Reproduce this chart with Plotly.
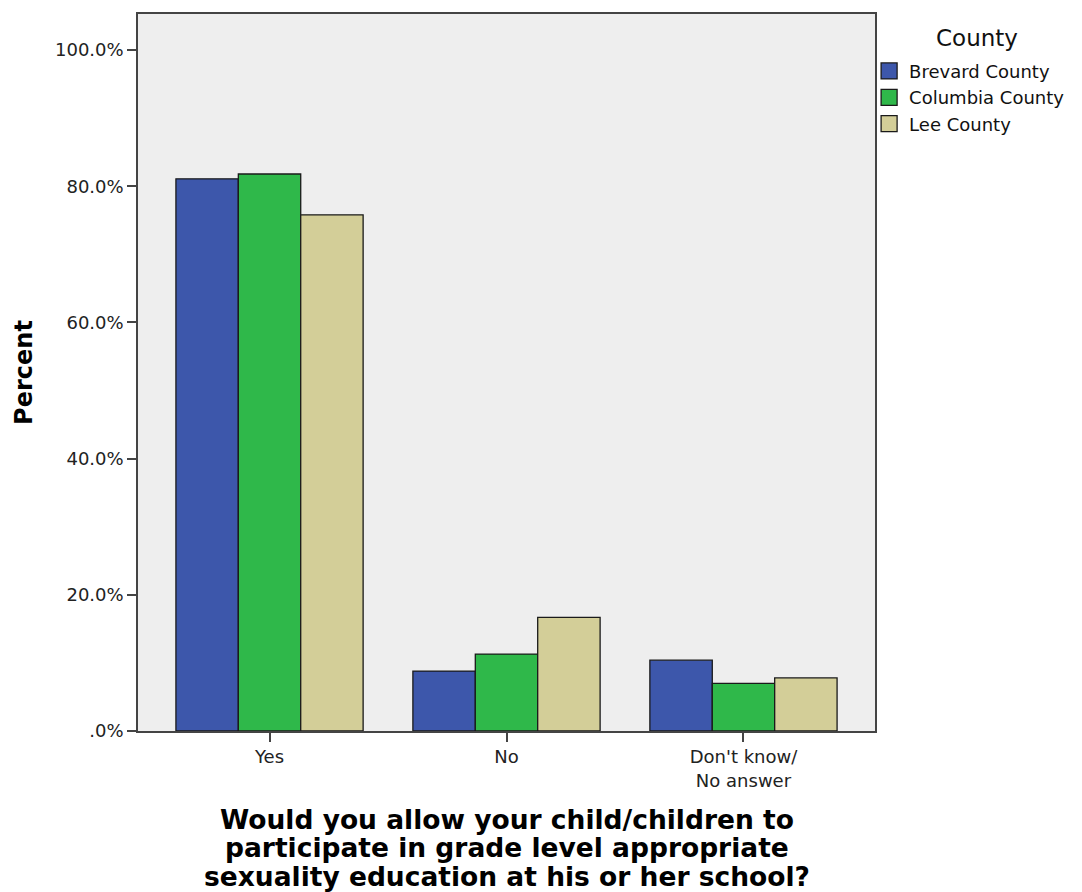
import plotly.graph_objects as go

categories = ["Yes", "No", "Don't know/<br>No answer"]
brevard = [81.1, 8.8, 10.4]
columbia = [81.8, 11.3, 7.0]
lee = [75.8, 16.7, 7.8]
series_names = ["Brevard County", "Columbia County", "Lee County"]
colors = ["#3d57ab", "#2fb84a", "#d3ce98"]
y_tickvals = [0, 20, 40, 60, 80, 100]
y_ticktext = [".0%", "20.0%", "40.0%", "60.0%", "80.0%", "100.0%"]
x_title_lines = ["Would you allow your child/children to",
                 "participate in grade level appropriate",
                 "sexuality education at his or her school?"]
legend_title = "County"

fig = go.Figure()
for name, vals, col in zip(series_names, [brevard, columbia, lee], colors):
    fig.add_trace(go.Bar(x=categories, y=vals, name=name, showlegend=False,
                         marker=dict(color=col, line=dict(color="#1a1a1a", width=1.3))))
# legend entries with larger square swatches
for name, col in zip(series_names, colors):
    fig.add_trace(go.Scatter(x=[None], y=[None], mode="markers", name=name,
                             marker=dict(symbol="square", size=16, color=col,
                                         line=dict(color="#1a1a1a", width=1.3))))

font = "DejaVu Sans"
for i, line in enumerate(x_title_lines):
    fig.add_annotation(text="<b>" + line + "</b>", xref="paper", yref="paper",
                       x=0.5, y=0, xanchor="center", yanchor="middle",
                       yshift=-(88 + 28.5 * i), showarrow=False,
                       font=dict(family=font, size=26.5, color="#000"))
fig.add_annotation(text=legend_title, xref="paper", yref="paper",
                   x=1.1384, y=0.9666, xanchor="center", yanchor="middle",
                   showarrow=False, font=dict(family=font, size=23, color="#111"))

fig.update_layout(
    width=1074, height=884,
    barmode="group", bargap=0.21, bargroupgap=0,
    paper_bgcolor="white", plot_bgcolor="#eeeeee",
    margin=dict(l=130, r=207, t=4, b=161),
    font=dict(family=font, size=18, color="#222"),
    showlegend=True,
    legend=dict(x=0.992, y=0.946, xanchor="left", yanchor="top",
                xref="paper", yref="paper",
                font=dict(size=18, color="#111"),
                tracegroupgap=0, itemwidth=30,
                bgcolor="rgba(0,0,0,0)"),
    xaxis=dict(range=[-0.555, 2.555], showline=True, linecolor="#444", linewidth=1.5, mirror=True,
               ticks="outside", ticklen=9, tickcolor="#444", tickwidth=1.5,
               tickfont=dict(size=18, color="#222")),
    yaxis=dict(range=[0, 105.3], showline=True, linecolor="#444", linewidth=1.5, mirror=True,
               showgrid=False, zeroline=False,
               tickvals=y_tickvals, ticktext=y_ticktext,
               ticks="outside", ticklen=9, tickcolor="#444", tickwidth=1.5,
               tickfont=dict(size=18, color="#222"),
               title=dict(text="<b>Percent</b>", font=dict(size=24, color="#000"), standoff=16)),
)
fig.write_html("out.html")
